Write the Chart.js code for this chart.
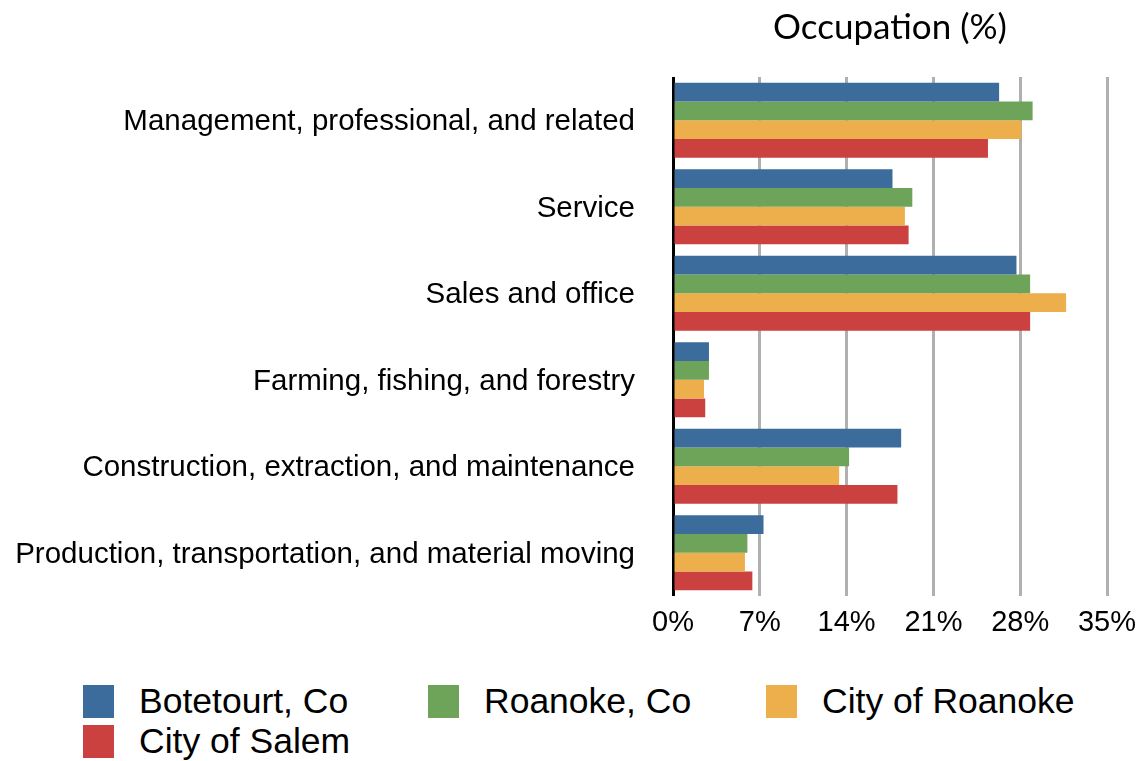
<!DOCTYPE html>
<html>
<head>
<meta charset="utf-8">
<script src="https://cdn.jsdelivr.net/npm/chart.js@4"></script>
<style>
  body { margin: 0; background: #fff; }
  #wrap { position: relative; width: 1146px; height: 761px; }
  #legend {
    position: absolute; left: 83px; top: 685px;
    display: grid; grid-template-columns: 345px 338px auto;
    row-gap: 7px;
    font-family: "Liberation Sans", Arial, sans-serif; font-size: 35.5px; color: #000;
  }
  .item { display: flex; align-items: center; height: 33px; }
  .box { width: 31px; height: 33px; margin-right: 25px; flex: none; }
</style>
</head>
<body>
<div id="wrap">
  <canvas id="chart" width="1146" height="671"></canvas>
  <div id="legend"></div>
</div>
<script>
// categories / series (% of employed)
const categories = [
  'Management, professional, and related',
  'Service',
  'Sales and office',
  'Farming, fishing, and forestry',
  'Construction, extraction, and maintenance',
  'Production, transportation, and material moving'
];
const botetourt   = [26.3, 17.7, 27.7, 2.9, 18.4, 7.3];
const roanokeCo   = [29.0, 19.3, 28.8, 2.9, 14.2, 6.0];
const cityRoanoke = [28.1, 18.7, 31.7, 2.5, 13.4, 5.8];
const salem       = [25.4, 19.0, 28.8, 2.6, 18.1, 6.4];
const xTicks = [0, 7, 14, 21, 28, 35];

const seriesNames = ['Botetourt, Co', 'Roanoke, Co', 'City of Roanoke', 'City of Salem'];
const seriesColors = ['#3c6c9c', '#6ea45a', '#ecaf4b', '#ca413f'];
const seriesData = [botetourt, roanokeCo, cityRoanoke, salem];

const font = '"Liberation Sans", Arial, sans-serif';

const ctx = document.getElementById('chart').getContext('2d');
new Chart(ctx, {
  type: 'bar',
  data: {
    labels: categories,
    datasets: seriesData.map((d, i) => ({
      label: seriesNames[i],
      data: d,
      backgroundColor: seriesColors[i],
      borderWidth: 0,
      categoryPercentage: 0.867,
      barPercentage: 1.0
    }))
  },
  options: {
    indexAxis: 'y',
    responsive: false,
    animation: false,
    devicePixelRatio: 1,
    layout: { padding: { left: 0, right: 39, top: 0, bottom: 0 } },
    plugins: {
      legend: { display: false },
      tooltip: { enabled: false },
      title: {
        display: true,
        text: 'Occupation (%)',
        fullSize: false,
        color: '#000',
        font: { family: 'Lato, "Open Sans", sans-serif', size: 35, weight: 'normal' },
        padding: { top: 7, bottom: 28 }
      }
    },
    scales: {
      x: {
        min: 0,
        max: 35,
        afterBuildTicks: (scale) => { scale.ticks = xTicks.map(v => ({ value: v })); },
        ticks: {
          color: '#000',
          font: { family: font, size: 29 },
          padding: 10,
          maxRotation: 0,
          callback: (v) => v + '%'
        },
        grid: {
          drawTicks: false,
          lineWidth: 3,
          color: (c) => c.index === 0 ? '#000' : '#b0b0b0'
        },
        border: { display: false },
        afterFit: (scale) => {
          scale.height = 75;
          scale.paddingLeft = 0;
          scale.paddingRight = 0;
        }
      },
      y: {
        ticks: {
          color: '#000',
          font: { family: font, size: 29.5 },
          padding: 38,
          labelOffset: 2
        },
        grid: { display: false, drawTicks: false },
        border: { display: false },
        afterFit: (scale) => { scale.width = 673; }
      }
    }
  }
});

// legend in a fixed 3-column grid like the original
const legend = document.getElementById('legend');
seriesNames.forEach((name, i) => {
  const item = document.createElement('div');
  item.className = 'item';
  const box = document.createElement('span');
  box.className = 'box';
  box.style.background = seriesColors[i];
  item.appendChild(box);
  item.appendChild(document.createTextNode(name));
  legend.appendChild(item);
});
</script>
</body>
</html>
